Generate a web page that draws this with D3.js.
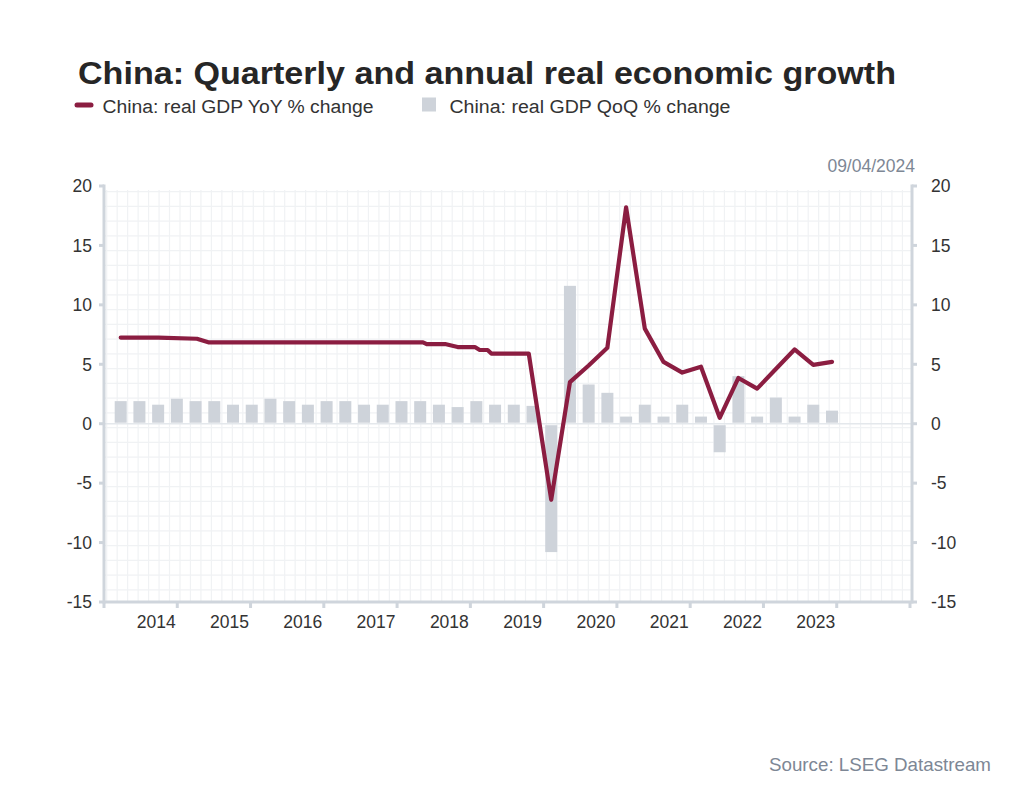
<!DOCTYPE html>
<html>
<head>
<meta charset="utf-8">
<script src="https://cdn.jsdelivr.net/npm/d3@7"></script>
<style>
  html, body { margin: 0; padding: 0; background: #ffffff; }
  svg { display: block; }
  text { font-family: "Liberation Sans", Arial, sans-serif; }
</style>
</head>
<body>
<svg id="chart" width="1024" height="794"></svg>
<script>
// ---------------- DATA ----------------
const titleText = "China: Quarterly and annual real economic growth";
const legendLabels = ["China: real GDP YoY % change", "China: real GDP QoQ % change"];
const dateStamp = "09/04/2024";
const sourceText = "Source: LSEG Datastream";

// quarters (bar categories)
const quarters = [
  "2014Q2","2014Q3","2014Q4","2015Q1","2015Q2","2015Q3","2015Q4","2016Q1","2016Q2","2016Q3",
  "2016Q4","2017Q1","2017Q2","2017Q3","2017Q4","2018Q1","2018Q2","2018Q3","2018Q4","2019Q1",
  "2019Q2","2019Q3","2019Q4","2020Q1","2020Q2","2020Q3","2020Q4","2021Q1","2021Q2","2021Q3",
  "2021Q4","2022Q1","2022Q2","2022Q3","2022Q4","2023Q1","2023Q2","2023Q3","2023Q4"
];
// QoQ % change (bars)
const qoqValues = [
  1.9, 1.9, 1.6, 2.1, 1.9, 1.9, 1.6, 1.6, 2.1, 1.9,
  1.6, 1.9, 1.9, 1.6, 1.6, 1.9, 1.9, 1.6, 1.4, 1.9,
  1.6, 1.6, 1.5, -10.8, 11.6, 3.3, 2.6, 0.6, 1.6, 0.6,
  1.6, 0.6, -2.4, 4.0, 0.6, 2.2, 0.6, 1.6, 1.1
];
// YoY % change (line): position in quarters since 2014Q2, and value
const yoyPositions = [0, 2, 4.07, 4.68, 16.15, 16.35, 17.33, 18.0, 18.92, 19.18, 19.6, 19.8, 21.8,
  23, 24, 25, 26, 27, 28, 29, 30, 31, 32, 33, 34, 35, 36, 37, 38];
const yoyValues = [7.25, 7.25, 7.15, 6.85, 6.85, 6.7, 6.7, 6.45, 6.45, 6.2, 6.2, 5.9, 5.9,
  -6.4, 3.5, 4.9, 6.4, 18.2, 8.0, 5.2, 4.3, 4.8, 0.5, 3.85, 2.95, 4.6, 6.25, 4.95, 5.2];

// axis ticks
const yTicks = [20, 15, 10, 5, 0, -5, -10, -15];
const yearTicks = [2013, 2014, 2015, 2016, 2017, 2018, 2019, 2020, 2021, 2022, 2023, 2024];
const yearLabels = ["2014", "2015", "2016", "2017", "2018", "2019", "2020", "2021", "2022", "2023"];

// ---------------- LAYOUT ----------------
const plot = { left: 104, right: 912, top: 186, bottom: 602 };
const colors = {
  line: "#8b1d41", bar: "#ced3da", axis: "#cfd5dc", grid: "#f0f2f4",
  text: "#333333", title: "#262626", muted: "#7d8795"
};

const svg = d3.select("#chart");

const y = d3.scaleLinear().domain([-15, 20]).range([plot.bottom, plot.top]);
const x = d3.scaleLinear().domain([0, quarters.length - 1]).range([120.7, 832]);
const xYear = d3.scaleLinear().domain([2013, 2024]).range([plot.left, plot.right - 2]);

// ---------------- GRID ----------------
const grid = svg.append("g");
const gridXs = d3.range(plot.left + 2.7, plot.right, 10.47);
const gridYs = d3.range(plot.top + 5.7, plot.bottom, 14.75);
grid.selectAll("line.gx").data(gridXs).join("line")
  .attr("x1", d => d).attr("x2", d => d)
  .attr("y1", plot.top + 4).attr("y2", plot.bottom)
  .attr("stroke", colors.grid).attr("stroke-width", 1.2);
grid.selectAll("line.gy").data(gridYs).join("line")
  .attr("x1", plot.left).attr("x2", plot.right)
  .attr("y1", d => d).attr("y2", d => d)
  .attr("stroke", colors.grid).attr("stroke-width", 1.2);
// zero line
svg.append("line")
  .attr("x1", plot.left).attr("x2", plot.right)
  .attr("y1", y(0)).attr("y2", y(0))
  .attr("stroke", "#e4e8ec").attr("stroke-width", 1.5);

// ---------------- BARS ----------------
const barW = 12;
svg.append("g").selectAll("rect").data(qoqValues).join("rect")
  .attr("x", (d, i) => x(i) - barW / 2)
  .attr("width", barW)
  .attr("y", d => d >= 0 ? y(d) : y(0) + 1.5)
  .attr("height", d => Math.max(0, Math.abs(y(d) - y(0)) - (d >= 0 ? 1 : 1.5)))
  .attr("fill", colors.bar);

// ---------------- LINE ----------------
const lineData = yoyPositions.map((p, i) => ({ p, v: yoyValues[i] }));
svg.append("path")
  .datum(lineData)
  .attr("d", d3.line().x(d => x(d.p)).y(d => y(d.v)))
  .attr("fill", "none")
  .attr("stroke", colors.line)
  .attr("stroke-width", 4.2)
  .attr("stroke-linejoin", "round")
  .attr("stroke-linecap", "round");

// ---------------- AXES ----------------
const axes = svg.append("g").attr("stroke", colors.axis).attr("stroke-width", 3).attr("fill", "none");
// left axis
axes.append("line").attr("x1", plot.left).attr("x2", plot.left).attr("y1", y(20) - 1.5).attr("y2", y(-15) + 1.5);
axes.selectAll("line.lt").data(yTicks).join("line")
  .attr("x1", plot.left - 5).attr("x2", plot.left)
  .attr("y1", d => y(d)).attr("y2", d => y(d));
// right axis
axes.append("line").attr("x1", plot.right).attr("x2", plot.right).attr("y1", y(20) - 1.5).attr("y2", y(-15) + 1.5);
axes.selectAll("line.rt").data(yTicks).join("line")
  .attr("x1", plot.right).attr("x2", plot.right + 5)
  .attr("y1", d => y(d)).attr("y2", d => y(d));
// bottom axis
axes.append("line").attr("x1", plot.left).attr("x2", plot.right).attr("y1", y(-15)).attr("y2", y(-15));
axes.selectAll("line.xt").data(yearTicks).join("line")
  .attr("x1", d => xYear(d)).attr("x2", d => xYear(d))
  .attr("y1", y(-15)).attr("y2", y(-15) + 6);

// y labels
svg.append("g").selectAll("text").data(yTicks).join("text")
  .attr("x", plot.left - 12).attr("y", d => y(d))
  .attr("dy", "0.36em").attr("text-anchor", "end")
  .attr("font-size", 17.5).attr("fill", colors.text)
  .text(d => d);
svg.append("g").selectAll("text").data(yTicks).join("text")
  .attr("x", plot.right + 19).attr("y", d => y(d))
  .attr("dy", "0.36em").attr("text-anchor", "start")
  .attr("font-size", 17.5).attr("fill", colors.text)
  .text(d => d);
// x labels
svg.append("g").selectAll("text").data(yearLabels).join("text")
  .attr("x", d => xYear(+d) - 21).attr("y", 628)
  .attr("text-anchor", "middle")
  .attr("font-size", 17.5).attr("fill", colors.text)
  .text(d => d);

// ---------------- TITLE / LEGEND / NOTES ----------------
svg.append("text")
  .attr("x", 78).attr("y", 83.5)
  .attr("font-size", 31).attr("font-weight", "bold").attr("fill", colors.title)
  .attr("textLength", 818).attr("lengthAdjust", "spacingAndGlyphs")
  .text(titleText);

svg.append("line")
  .attr("x1", 77).attr("x2", 91).attr("y1", 105).attr("y2", 105)
  .attr("stroke", colors.line).attr("stroke-width", 5).attr("stroke-linecap", "round");
svg.append("text")
  .attr("x", 102.5).attr("y", 112.5)
  .attr("font-size", 18).attr("fill", colors.text)
  .attr("textLength", 271).attr("lengthAdjust", "spacingAndGlyphs")
  .text(legendLabels[0]);
svg.append("rect")
  .attr("x", 422).attr("y", 97.5).attr("width", 14).attr("height", 14)
  .attr("fill", colors.bar);
svg.append("text")
  .attr("x", 449.5).attr("y", 112.5)
  .attr("font-size", 18).attr("fill", colors.text)
  .attr("textLength", 281).attr("lengthAdjust", "spacingAndGlyphs")
  .text(legendLabels[1]);

svg.append("text")
  .attr("x", 915).attr("y", 172).attr("text-anchor", "end")
  .attr("font-size", 17.5).attr("fill", colors.muted)
  .text(dateStamp);

svg.append("text")
  .attr("x", 991).attr("y", 770.5).attr("text-anchor", "end")
  .attr("font-size", 18.5).attr("fill", colors.muted)
  .attr("textLength", 222).attr("lengthAdjust", "spacingAndGlyphs")
  .text(sourceText);
</script>
</body>
</html>
